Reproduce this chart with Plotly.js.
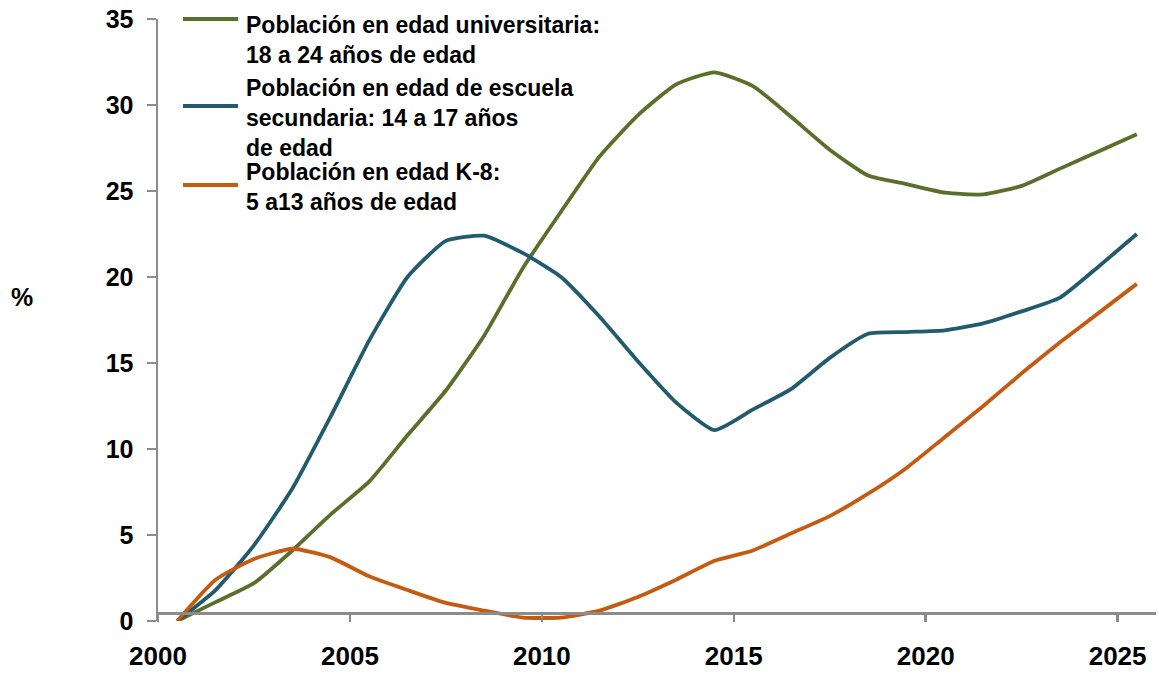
<!DOCTYPE html>
<html>
<head>
<meta charset="utf-8">
<script src="https://cdn.plot.ly/plotly-3.0.1.min.js"></script>
<style>html,body{margin:0;padding:0;background:#fff;}#chart{width:1159px;height:677px;}</style>
</head>
<body>
<div id="chart"></div>
<script>
const years = [2000,2001,2002,2003,2004,2005,2006,2007,2008,2009,2010,2011,2012,2013,2014,2015,2016,2017,2018,2019,2020,2021,2022,2023,2024,2025];
const universitaria = [0,1.1,2.2,4.1,6.2,8.1,10.8,13.4,16.6,20.5,23.8,27.0,29.4,31.2,31.9,31.1,29.3,27.4,25.9,25.4,24.9,24.8,25.3,26.3,27.3,28.3];
const secundaria = [0,1.8,4.4,7.7,11.9,16.3,20.0,22.1,22.4,21.4,20.0,17.7,15.1,12.7,11.1,12.3,13.5,15.3,16.7,16.8,16.9,17.3,18.0,18.8,20.6,22.5];
const k8 = [0,2.4,3.6,4.2,3.7,2.6,1.8,1.05,0.6,0.2,0.2,0.6,1.4,2.4,3.5,4.1,5.1,6.1,7.4,8.9,10.7,12.5,14.4,16.2,17.9,19.6];
const names = [
  "Población en edad universitaria:<br>18 a 24 años de edad",
  "Población en edad de escuela<br>secundaria: 14 a 17 años<br>de edad",
  "Población en edad K-8:<br>5 a13 años de edad"
];
const tickYears = [2000,2005,2010,2015,2020,2025];
const colors = ["#5b6f2c","#235b6e","#c55a11"];

const W = 1159, H = 677;
const L = 158, R = 3, T = 19, B = 56;
const pw = W - L - R, ph = H - T - B;
const px = v => (v - L) / pw;
const py = v => (H - B - v) / ph;

const series = [universitaria, secundaria, k8];
const traces = series.map((s, i) => ({
  x: years, y: s, type: 'scatter', mode: 'lines', name: names[i],
  line: {color: colors[i], width: 3.8, shape: 'spline', smoothing: 0.5},
  showlegend: false, hoverinfo: 'x+y'
}));

const font = {family: '"Liberation Sans", Arial, sans-serif', color: '#000'};
const legendLineY = [19, 106, 185];
const legendTextY = [40, 118, 187];
const shapes = legendLineY.map((yy, i) => ({
  type: 'line', xref: 'paper', yref: 'paper',
  x0: px(183), x1: px(238), y0: py(yy), y1: py(yy),
  line: {color: colors[i], width: 4}
}));
const annotations = names.map((n, i) => ({
  xref: 'paper', yref: 'paper', x: px(244), y: py(legendTextY[i]),
  xanchor: 'left', yanchor: 'middle', align: 'left', showarrow: false,
  text: '<b>' + n + '</b>', font: Object.assign({size: 23}, font)
}));
annotations.push({
  xref: 'paper', yref: 'paper', x: px(22), y: py(297), xanchor: 'center', yanchor: 'middle',
  showarrow: false, text: '<b>%</b>', font: Object.assign({size: 25}, font)
});

const layout = {
  width: W, height: H,
  margin: {l: L, r: R, t: T, b: B},
  paper_bgcolor: '#fff', plot_bgcolor: '#fff',
  showlegend: false,
  xaxis: {
    range: [1999.5, 2025.5], anchor: 'free', position: (621 - 613) / ph,
    tickvals: tickYears.map(y => y - 0.5), ticktext: tickYears.map(String),
    showline: true, linecolor: '#8c8c8c', linewidth: 2.5,
    ticks: 'outside', ticklen: 7, tickwidth: 2.5, tickcolor: '#8c8c8c',
    showgrid: false, zeroline: false,
    tickfont: Object.assign({size: 26, weight: 'bold'}, font),
    ticklabelstandoff: 12
  },
  yaxis: {
    range: [0, 35], tickvals: [0,5,10,15,20,25,30,35],
    showline: true, linecolor: '#8c8c8c', linewidth: 2.5,
    ticks: 'outside', ticklen: 9, tickwidth: 2.5, tickcolor: '#8c8c8c',
    showgrid: false, zeroline: false,
    tickfont: Object.assign({size: 25, weight: 'bold'}, font),
    ticklabelstandoff: 8
  },
  shapes: shapes,
  annotations: annotations
};

Plotly.newPlot('chart', traces, layout, {displayModeBar: false, staticPlot: true});
</script>
</body>
</html>
